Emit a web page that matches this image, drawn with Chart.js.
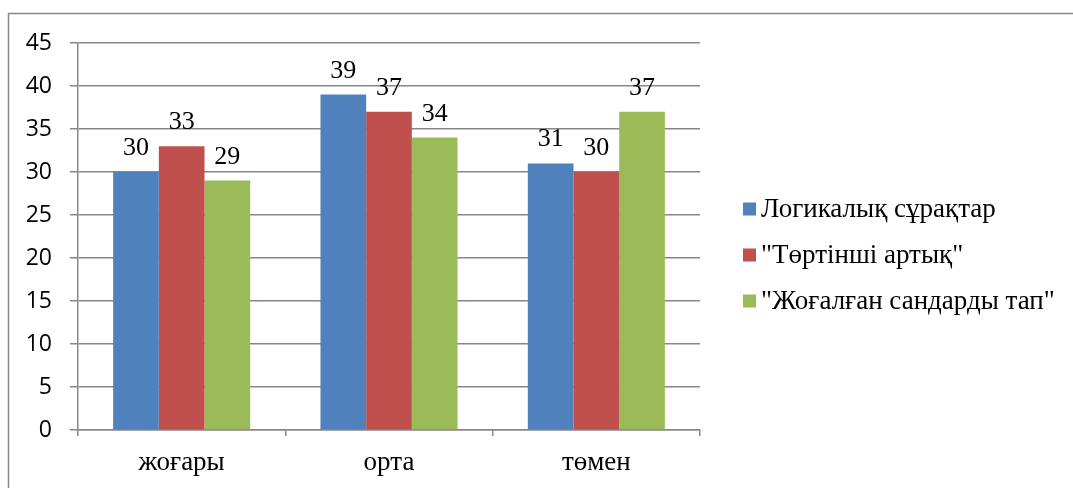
<!DOCTYPE html>
<html>
<head>
<meta charset="utf-8">
<script src="https://cdn.jsdelivr.net/npm/chart.js@4/dist/chart.umd.min.js"></script>
<style>
html,body{margin:0;padding:0;background:#fff;}
#wrap{width:1073px;height:488px;position:relative;}
</style>
</head>
<body>
<div id="wrap"><canvas id="c" width="1073" height="488"></canvas></div>
<script>
const categories = ["жоғары", "орта", "төмен"];
const seriesNames = ["Логикалық сұрақтар", "\"Төртінші артық\"", "\"Жоғалған сандарды тап\""];
const logical = [30, 39, 31];
const fourth = [33, 37, 30];
const missing = [29, 34, 37];
const yTicks = [0, 5, 10, 15, 20, 25, 30, 35, 40, 45];
const colors = ["#4F81BD", "#C0504D", "#9BBB59"];

const GRAY = "#878787";
const SERIF = "'Liberation Serif', 'Times New Roman', serif";

const frame = {
  id: "frame",
  beforeDraw(chart) {
    const ctx = chart.ctx;
    ctx.save();
    ctx.fillStyle = "#fff";
    ctx.fillRect(0, 0, chart.width, chart.height);
    ctx.strokeStyle = GRAY;
    ctx.lineWidth = 1.5;
    ctx.strokeRect(8.5, 13.5, 3000, 3000);
    ctx.restore();
  }
};

const valueLabels = {
  id: "valueLabels",
  afterDatasetsDraw(chart) {
    const ctx = chart.ctx;
    ctx.save();
    ctx.font = "26px " + SERIF;
    ctx.fillStyle = "#000";
    ctx.textAlign = "center";
    ctx.textBaseline = "alphabetic";
    chart.data.datasets.forEach((ds, i) => {
      chart.getDatasetMeta(i).data.forEach((bar, j) => {
        ctx.fillText(String(ds.data[j]), bar.x, bar.y - 17);
      });
    });
    ctx.restore();
  }
};

const sideLegend = {
  id: "sideLegend",
  afterDraw(chart) {
    const ctx = chart.ctx;
    ctx.save();
    ctx.font = "27px " + SERIF;
    ctx.textBaseline = "middle";
    ctx.textAlign = "left";
    const x0 = chart.chartArea.right + 43;
    const yStart = 209, step = 46;
    chart.data.datasets.forEach((ds, i) => {
      const y = yStart + i * step;
      ctx.fillStyle = ds.backgroundColor;
      ctx.fillRect(x0, y - 6.5, 13, 13);
      ctx.fillStyle = "#000";
      ctx.fillText(ds.label, x0 + 18, y + 1);
    });
    ctx.restore();
  }
};

new Chart(document.getElementById("c"), {
  type: "bar",
  data: {
    labels: categories,
    datasets: [
      { label: seriesNames[0], data: logical, backgroundColor: colors[0] },
      { label: seriesNames[1], data: fourth, backgroundColor: colors[1] },
      { label: seriesNames[2], data: missing, backgroundColor: colors[2] }
    ]
  },
  options: {
    responsive: false,
    animation: false,
    devicePixelRatio: 1,
    layout: { padding: { top: 43, right: 373, bottom: 0, left: 0 } },
    datasets: { bar: { categoryPercentage: 0.661, barPercentage: 1.0, borderWidth: 0 } },
    plugins: {
      legend: { display: false },
      tooltip: { enabled: false },
      title: { display: false }
    },
    scales: {
      x: {
        grid: { display: true, drawOnChartArea: false, drawTicks: true, tickLength: 6, color: GRAY, lineWidth: 1.5, offset: true },
        border: { display: true, color: GRAY, width: 1.5 },
        ticks: { color: "#000", font: { family: SERIF, size: 27 }, padding: 11 },
        afterFit(scale) { scale.height = 58; }
      },
      y: {
        min: 0, max: 45,
        afterBuildTicks(scale) { scale.ticks = yTicks.map(v => ({ value: v })); },
        grid: { color: GRAY, lineWidth: 1.5, tickLength: 8 },
        border: { display: true, color: GRAY, width: 1.5 },
        ticks: { color: "#000", font: { family: "'Open Sans', sans-serif", size: 23 }, padding: 18 },
        afterFit(scale) { scale.width = 78; }
      }
    }
  },
  plugins: [frame, valueLabels, sideLegend]
});
</script>
</body>
</html>
